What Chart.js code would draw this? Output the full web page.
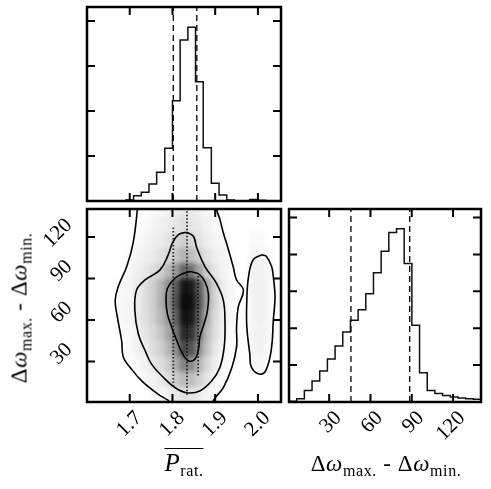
<!DOCTYPE html>
<html>
<head>
<meta charset="utf-8">
<script src="https://cdn.jsdelivr.net/npm/chart.js@4.4.1/dist/chart.umd.min.js"></script>
<style>
html,body{margin:0;padding:0;background:#fff;}
#wrap{position:relative;width:491px;height:489px;overflow:hidden;background:#fff;}
#wrap canvas{position:absolute;left:0;top:0;}
#cDens{filter:blur(2.2px);clip-path:inset(209px 210px 87px 87px);}
.ttl{position:absolute;font-family:"Liberation Serif",serif;font-size:23px;line-height:23px;color:#000;white-space:nowrap;letter-spacing:0.6px;}
.ttl sub{font-size:16px;line-height:0;vertical-align:-5px;}
</style>
</head>
<body>
<div id="wrap">
  <canvas id="cDens" width="491" height="489"></canvas>
  <canvas id="cTop" width="491" height="489"></canvas>
  <canvas id="cMain" width="491" height="489"></canvas>
  <canvas id="cRight" width="491" height="489"></canvas>
  <div class="ttl" id="tP" style="left:184px;top:450px;transform:translateX(-50%);font-size:25px;line-height:25px;"><span style="border-top:1.2px solid #000;"><i>P</i><sub>rat.</sub></span></div>
  <div class="ttl" id="tDx" style="left:386px;top:452px;transform:translateX(-50%);">Δ<i>ω</i><sub>max.</sub> - Δ<i>ω</i><sub>min.</sub></div>
  <div class="ttl" id="tDy" style="left:19px;top:308px;transform:translate(-50%,-50%) rotate(-90deg);">Δ<i>ω</i><sub>max.</sub> - Δ<i>ω</i><sub>min.</sub></div>
</div>
<script>
// ================= DATA =================
const pTicks = [1.7, 1.8, 1.9, 2.0];
const dTicks = [30, 60, 90, 120];
const pRange = [1.6, 2.054];
const dRange = [0.8, 140.3];

// marginal histogram of P_rat. (25 bins)
const pEdges = [1.600,1.618,1.636,1.654,1.673,1.691,1.709,1.727,1.745,1.763,1.782,1.800,1.818,1.836,1.854,1.872,1.891,1.909,1.927,1.945,1.963,1.981,2.000,2.018,2.036,2.054];
const pCounts = [0,0,0,0,0,11,59,97,189,319,585,1114,1789,1930,1326,592,197,67,11,0,0,17,8,0,0];
const pQuantiles = [1.802, 1.857];
const pCountTicks = [500, 1000, 1500, 2000];
const pCountMax = 2156;

// marginal histogram of Δω_max - Δω_min (25 bins)
const dEdges = [0.80,6.38,11.96,17.54,23.12,28.70,34.28,39.86,45.44,51.02,56.60,62.18,67.76,73.34,78.92,84.50,90.08,95.66,101.24,106.82,112.40,117.98,123.56,129.14,134.72,140.30];
const dCounts = [4,18,63,114,168,233,304,379,443,500,587,701,817,918,939,750,416,159,63,46,35,27,22,18,15];
const dQuantiles = [45.8, 88.5];
const dCountTicks = [200, 400, 600, 800, 1000];
const dCountMax = 1046;

// 2-D sample density (darkness 0-100), columns = P_rat. centres, rows = Δω centres (bottom to top)
const densityCols = [1.6817,1.6999,1.7180,1.7362,1.7544,1.7725,1.7907,1.8089,1.8270,1.8452,1.8633,1.8815,1.8996,1.9178,1.9360,1.9541,1.9723,1.9904,2.0086,2.0268,2.0449];
const densityRows = [6.38,17.54,28.70,39.86,51.02,62.18,73.34,84.50,95.66,106.82,117.98,129.14,140.30];
const densityGrid = [
  [0,0,0,0,3,4,6,9,12,11,8,4,2,0,0,0,0,0,0,0,0],
  [0,0,0,3,5,8,13,20,28,26,18,10,4,2,0,0,0,0,0,0,0],
  [0,0,3,5,9,13,20,32,50,46,30,16,7,3,0,0,0,3,3,0,0],
  [0,3,5,8,13,18,28,45,72,68,45,23,10,4,0,0,0,4,5,2,0],
  [2,3,6,10,15,22,34,54,84,80,54,28,13,5,2,0,0,5,5,3,0],
  [3,4,8,12,18,27,40,62,92,90,62,32,15,6,3,0,0,5,6,3,0],
  [3,4,8,12,19,30,46,68,96,94,68,36,17,7,3,0,0,5,6,3,0],
  [2,4,8,12,19,29,44,64,92,90,64,36,17,7,3,0,0,5,6,3,0],
  [0,3,6,9,13,18,28,40,60,55,36,20,10,5,3,0,0,5,5,3,0],
  [0,2,4,6,8,11,16,22,30,26,18,11,7,4,2,0,0,4,4,2,0],
  [0,0,2,4,6,8,11,15,19,16,11,7,4,3,0,0,0,2,2,0,0],
  [0,0,0,2,4,6,8,10,13,10,8,5,3,2,0,0,0,0,0,0,0],
  [0,0,0,0,2,3,5,7,10,8,5,3,2,0,0,0,0,0,0,0,0]
];

// dense columns of samples at discrete P_rat. values
const streakX = [1.802, 1.834, 1.860];
const streakLow = [12, 6, 20];
const streakHigh = [127, 140, 92];

// contour levels (P_rat., Δω)
const contourInner = [[1.841,95.1],[1.818,92.7],[1.802,89.0],[1.788,82.9],[1.785,74.4],[1.788,64.7],[1.798,55.0],[1.810,45.2],[1.822,36.7],[1.837,30.6],[1.853,31.9],[1.861,39.2],[1.864,47.7],[1.874,57.4],[1.882,67.1],[1.884,79.3],[1.876,87.8],[1.861,93.4],[1.841,95.1]];
const contourMiddle = [[1.833,123.5],[1.814,121.8],[1.800,115.8],[1.790,107.2],[1.771,96.3],[1.736,89.0],[1.716,81.7],[1.712,67.1],[1.720,50.1],[1.736,37.9],[1.751,28.2],[1.779,18.5],[1.806,11.2],[1.833,7.5],[1.864,8.8],[1.892,16.1],[1.911,25.8],[1.921,40.4],[1.923,57.4],[1.919,74.4],[1.903,86.6],[1.876,98.7],[1.857,112.1],[1.849,120.6],[1.833,123.5]];
const contourOuterLeft = [[1.719,146],[1.718,140.1],[1.708,115.8],[1.693,98.7],[1.673,84.1],[1.666,74.4],[1.671,62.3],[1.681,45.2],[1.685,33.1],[1.701,25.8],[1.728,16.1],[1.767,6.3],[1.790,1.9],[1.800,-1.5]];
const contourOuterRight = [[1.890,-1.5],[1.900,3.9],[1.919,11.2],[1.939,25.8],[1.950,40.4],[1.950,55.0],[1.954,69.5],[1.966,81.7],[1.950,89.0],[1.942,98.7],[1.931,110.9],[1.919,123.1],[1.911,132.8],[1.903,140.1],[1.901,146]];
const contourBlob = [[2.009,107.2],[1.989,103.6],[1.978,91.4],[1.974,74.4],[1.974,55.0],[1.981,35.5],[1.985,25.8],[2.005,20.9],[2.020,24.6],[2.032,40.4],[2.036,59.8],[2.040,76.8],[2.036,91.4],[2.032,98.7],[2.020,106.0],[2.009,107.2]];

// ================= HELPERS =================
const W = 491, H = 489;
const FONT = {family: '"Liberation Serif", serif', size: 21};
const BOX = {
  top:   {left: 87, right: 281, top: 7,   bottom: 201},
  main:  {left: 87, right: 281, top: 209, bottom: 402},
  right: {left: 289, right: 481, top: 209, bottom: 402}
};

function xAxis(range, tickVals, showLabels, fmt, h) {
  return {
    type: 'linear', position: 'bottom', min: range[0], max: range[1], offset: false,
    afterBuildTicks: s => { s.ticks = tickVals.map(v => ({value: v})); },
    afterFit: s => { s.height = h; },
    grid: {display: false, drawTicks: false},
    border: {display: false},
    ticks: {display: showLabels, autoSkip: false, minRotation: 45, maxRotation: 45,
            padding: 4, labelOffset: 9, color: '#000', font: FONT, callback: fmt}
  };
}
function yAxis(range, tickVals, showLabels, fmt, w) {
  return {
    type: 'linear', position: 'left', min: range[0], max: range[1], offset: false,
    afterBuildTicks: s => { s.ticks = tickVals.map(v => ({value: v})); },
    afterFit: s => { s.width = w; },
    grid: {display: false, drawTicks: false},
    border: {display: false},
    ticks: {display: showLabels, autoSkip: false, minRotation: 45, maxRotation: 45,
            padding: 18, labelOffset: -15, color: '#000', font: FONT, callback: fmt}
  };
}
function layoutFor(box, xh, yw) {
  return {padding: {left: box.left - yw, right: W - box.right, top: box.top, bottom: H - box.bottom - xh}};
}
const framePlugin = {
  id: 'frameTicks',
  afterDatasetsDraw(chart) {
    const {ctx, chartArea: a, scales} = chart;
    const L = 8;
    ctx.save();
    ctx.strokeStyle = '#000';
    ctx.lineWidth = 2;
    ctx.beginPath();
    scales.x.ticks.forEach(t => {
      const px = scales.x.getPixelForValue(t.value);
      ctx.moveTo(px, a.bottom); ctx.lineTo(px, a.bottom - L);
      ctx.moveTo(px, a.top); ctx.lineTo(px, a.top + L);
    });
    scales.y.ticks.forEach(t => {
      const py = scales.y.getPixelForValue(t.value);
      ctx.moveTo(a.left, py); ctx.lineTo(a.left + L, py);
      ctx.moveTo(a.right, py); ctx.lineTo(a.right - L, py);
    });
    ctx.stroke();
    ctx.lineWidth = 2.5;
    ctx.strokeRect(a.left, a.top, a.right - a.left, a.bottom - a.top);
    ctx.restore();
  }
};
function stepPoints(edges, counts) {
  const pts = [{x: edges[0], y: 0}];
  counts.forEach((c, i) => pts.push({x: edges[i], y: c}));
  pts.push({x: edges[edges.length - 1], y: counts[counts.length - 1]});
  pts.push({x: edges[edges.length - 1], y: 0});
  return pts;
}
function lineDs(points, extra) {
  return Object.assign({
    data: points, showLine: true, pointRadius: 0, fill: false,
    borderColor: '#000', borderWidth: 1.5, tension: 0
  }, extra || {});
}
function pairs(arr) { return arr.map(p => ({x: p[0], y: p[1]})); }
const baseOpts = {
  responsive: false, animation: false, events: [],
  plugins: {legend: {display: false}, tooltip: {enabled: false}}
};
const fmtP = v => Number(v).toFixed(1);
const fmtD = v => String(Math.round(v));

// ================= TOP HISTOGRAM =================
new Chart(document.getElementById('cTop'), {
  type: 'scatter',
  data: {datasets: [
    lineDs(stepPoints(pEdges, pCounts), {stepped: true, borderColor: '#111'}),
    ...pQuantiles.map(q => lineDs([{x: q, y: 0}, {x: q, y: pCountMax}], {borderDash: [6, 4], borderWidth: 1.3}))
  ]},
  options: Object.assign({}, baseOpts, {
    layout: layoutFor(BOX.top, 10, 10),
    scales: {x: xAxis(pRange, pTicks, false, fmtP, 10), y: yAxis([0, pCountMax], pCountTicks, false, fmtD, 10)}
  }),
  plugins: [framePlugin]
});

// ================= RIGHT HISTOGRAM =================
new Chart(document.getElementById('cRight'), {
  type: 'scatter',
  data: {datasets: [
    lineDs(stepPoints(dEdges, dCounts), {stepped: true, borderColor: '#111'}),
    ...dQuantiles.map(q => lineDs([{x: q, y: 0}, {x: q, y: dCountMax}], {borderDash: [6, 4], borderWidth: 1.3}))
  ]},
  options: Object.assign({}, baseOpts, {
    layout: layoutFor(BOX.right, 60, 10),
    scales: {x: xAxis(dRange, dTicks, true, fmtD, 60), y: yAxis([0, dCountMax], dCountTicks, false, fmtD, 10)}
  }),
  plugins: [framePlugin]
});

// ================= 2-D DENSITY (blurred layer) =================
const densData = [];
const rowHalf = (densityRows[1] - densityRows[0]) / 2;
densityGrid.forEach((row, i) => row.forEach((v, j) => {
  if (v > 0) densData.push({x: densityCols[j], y: [densityRows[i] - rowHalf, densityRows[i] + rowHalf], v: v});
}));
new Chart(document.getElementById('cDens'), {
  type: 'scatter',
  data: {datasets: [{
    type: 'bar', data: densData, grouped: false, barThickness: 7.8, borderWidth: 0,
    backgroundColor: c => {
      const v = c.raw && c.raw.v;
      if (!v) return 'rgba(0,0,0,0)';
      const g = Math.round(255 * (1 - v / 100));
      return 'rgb(' + g + ',' + g + ',' + g + ')';
    }
  }]},
  options: Object.assign({}, baseOpts, {
    layout: layoutFor(BOX.main, 60, 60),
    scales: {x: xAxis(pRange, pTicks, false, fmtP, 60), y: yAxis(dRange, dTicks, false, fmtD, 60)}
  })
});

// ================= 2-D PANEL (contours, labels) =================
const streakSets = streakX.map((x, i) => lineDs([{x: x, y: streakLow[i]}, {x: x, y: streakHigh[i]}],
  {borderDash: [1.5, 2], borderWidth: 1.8, borderColor: 'rgba(10,10,10,0.85)'}));
const contourStyle = {tension: 0.4, borderWidth: 1.6, borderColor: '#000'};
new Chart(document.getElementById('cMain'), {
  type: 'scatter',
  data: {datasets: [
    ...streakSets,
    lineDs(pairs(contourOuterLeft), contourStyle),
    lineDs(pairs(contourOuterRight), contourStyle),
    lineDs(pairs(contourMiddle), contourStyle),
    lineDs(pairs(contourInner), contourStyle),
    lineDs(pairs(contourBlob), contourStyle)
  ]},
  options: Object.assign({}, baseOpts, {
    layout: layoutFor(BOX.main, 60, 60),
    scales: {x: xAxis(pRange, pTicks, true, fmtP, 60), y: yAxis(dRange, dTicks, true, fmtD, 60)}
  }),
  plugins: [framePlugin]
});
</script>
</body>
</html>
